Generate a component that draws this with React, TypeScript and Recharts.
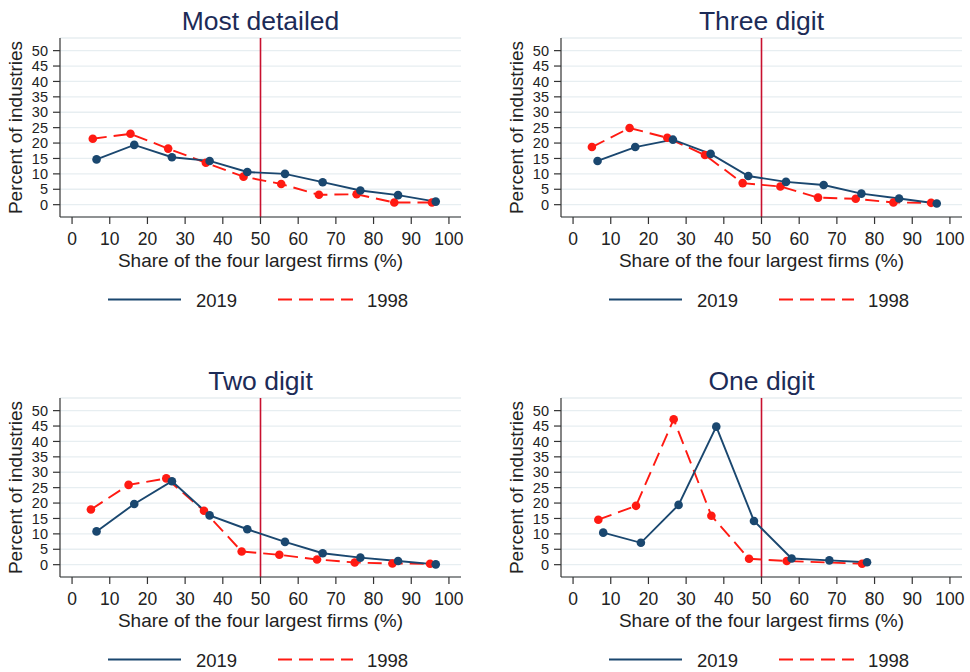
import React from "react";
import {
  LineChart,
  Line,
  XAxis,
  YAxis,
  CartesianGrid,
  ReferenceLine,
} from "recharts";

// Concentration distributions: share of industries by four-firm concentration ratio bin
const mostDetailedX2019 = [6.5, 16.5, 26.5, 36.5, 46.5, 56.5, 66.5, 76.5, 86.5, 96.5];
const mostDetailed2019 = [14.7, 19.4, 15.4, 14.2, 10.6, 10.0, 7.3, 4.6, 3.1, 1.0];
const mostDetailedX1998 = [5.5, 15.5, 25.5, 35.5, 45.5, 55.5, 65.5, 75.5, 85.5, 95.5];
const mostDetailed1998 = [21.4, 23.0, 18.2, 13.6, 9.1, 6.7, 3.2, 3.4, 0.7, 0.7];

const threeDigitX2019 = [6.5, 16.5, 26.5, 36.5, 46.5, 56.5, 66.5, 76.5, 86.5, 96.5];
const threeDigit2019 = [14.2, 18.7, 21.1, 16.5, 9.3, 7.4, 6.4, 3.6, 2.0, 0.4];
const threeDigitX1998 = [5, 15, 25, 35, 45, 55, 65, 75, 85, 95];
const threeDigit1998 = [18.7, 24.9, 21.7, 16.1, 7.0, 5.9, 2.3, 1.9, 0.7, 0.6];

const twoDigitX2019 = [6.5, 16.5, 26.5, 36.5, 46.5, 56.5, 66.5, 76.5, 86.5, 96.5];
const twoDigit2019 = [10.8, 19.7, 27.1, 16.0, 11.5, 7.4, 3.7, 2.3, 1.2, 0.1];
const twoDigitX1998 = [5, 15, 25, 35, 45, 55, 65, 75, 85, 95];
const twoDigit1998 = [17.9, 25.9, 28.0, 17.5, 4.3, 3.2, 1.7, 0.7, 0.4, 0.3];

const oneDigitX2019 = [8, 18, 28, 38, 48, 58, 68, 78];
const oneDigit2019 = [10.4, 7.1, 19.4, 44.8, 14.2, 2.0, 1.4, 0.8];
const oneDigitX1998 = [6.7, 16.7, 26.7, 36.7, 46.7, 56.7, 76.7];
const oneDigit1998 = [14.6, 19.1, 47.2, 15.9, 1.9, 1.2, 0.3];

const xTicks = [0, 10, 20, 30, 40, 50, 60, 70, 80, 90, 100];
const yTicks = [0, 5, 10, 15, 20, 25, 30, 35, 40, 45, 50];
const seriesNames = ["2019", "1998"];
const xAxisTitle = "Share of the four largest firms (%)";
const yAxisTitle = "Percent of industries";
const threshold = 50;

const NAVY = "#1a476f";
const RED = "#ff1a12";
const CRIMSON = "#c8102e";
const GRID = "#e7eef1";
const AXIS = "#333333";
const TITLE = "#1c2b57";
const FONT = "'Liberation Sans', Arial, Helvetica, sans-serif";

type Row = { x: number; a?: number | null; b?: number | null };

function buildRows(xa: number[], va: number[], xb: number[], vb: number[]): Row[] {
  const rows: Row[] = [];
  xa.forEach((x, i) => rows.push({ x, a: va[i], b: null }));
  xb.forEach((x, i) => rows.push({ x, a: null, b: vb[i] }));
  rows.sort((p, q) => p.x - q.x);
  return rows;
}

const makeDot = (color: string) => (props: any) => {
  const { cx, cy, key, value } = props;
  if (value == null || cx == null || cy == null || isNaN(cy)) {
    return <g key={key} />;
  }
  return <circle key={key} cx={cx} cy={cy} r={4.3} fill={color} stroke="none" />;
};

type PanelProps = {
  title: string;
  left: number;
  top: number;
  xa: number[];
  va: number[];
  xb: number[];
  vb: number[];
};

function Panel({ title, left, top, xa, va, xb, vb }: PanelProps) {
  const rows = buildRows(xa, va, xb, vb);
  return (
    <div style={{ position: "absolute", left, top, width: 469, height: 360 }}>
      <LineChart
        width={469}
        height={250}
        data={rows}
        margin={{ top: 38, right: 8, left: 20, bottom: 3 }}
        style={{ position: "absolute", left: 0, top: 0 }}
      >
        <CartesianGrid vertical={false} stroke={GRID} strokeWidth={1.3} />
        <XAxis
          dataKey="x"
          type="number"
          domain={[-3.2, 103.2]}
          ticks={xTicks}
          allowDataOverflow
          interval={0}
          height={30}
          tickSize={7}
          tickMargin={9}
          stroke={AXIS}
          strokeWidth={1.2}
          tick={{ fontSize: 17.5, fill: "#222", fontFamily: FONT }}
        />
        <YAxis
          type="number"
          domain={[-4, 54.1]}
          ticks={yTicks}
          allowDataOverflow
          interval={0}
          width={40}
          tickSize={7}
          tickMargin={5}
          stroke={AXIS}
          strokeWidth={1.2}
          tick={{ fontSize: 14.5, fill: "#222", fontFamily: FONT }}
        />
        <ReferenceLine x={threshold} stroke={CRIMSON} strokeWidth={1.6} />
        <Line
          type="linear"
          dataKey="b"
          name={seriesNames[1]}
          stroke={RED}
          strokeWidth={1.9}
          strokeDasharray="14 7"
          connectNulls
          dot={makeDot(RED)}
          activeDot={false}
          isAnimationActive={false}
        />
        <Line
          type="linear"
          dataKey="a"
          name={seriesNames[0]}
          stroke={NAVY}
          strokeWidth={1.9}
          connectNulls
          dot={makeDot(NAVY)}
          activeDot={false}
          isAnimationActive={false}
        />
      </LineChart>
      <svg
        width={469}
        height={360}
        style={{ position: "absolute", left: 0, top: 0, pointerEvents: "none" }}
        fontFamily={FONT}
      >
        <text x={260.5} y={29.5} textAnchor="middle" fontSize={26.5} fill={TITLE}>
          {title}
        </text>
        <text
          x={0}
          y={0}
          transform="translate(21.5,127.5) rotate(-90)"
          textAnchor="middle"
          fontSize={19}
          fill="#222"
        >
          {yAxisTitle}
        </text>
        <text x={260.5} y={266.5} textAnchor="middle" fontSize={19} fill="#222">
          {xAxisTitle}
        </text>
        <line x1={108} x2={181} y1={299.5} y2={299.5} stroke={NAVY} strokeWidth={1.9} />
        <text x={196} y={306.5} fontSize={18.5} fill="#222">
          {seriesNames[0]}
        </text>
        <line
          x1={278}
          x2={353}
          y1={299.5}
          y2={299.5}
          stroke={RED}
          strokeWidth={1.9}
          strokeDasharray="14 7"
        />
        <text x={367} y={306.5} fontSize={18.5} fill="#222">
          {seriesNames[1]}
        </text>
      </svg>
    </div>
  );
}

export default function App() {
  return (
    <div
      style={{
        position: "absolute",
        left: 0,
        top: 0,
        width: 970,
        height: 672,
        background: "#ffffff",
        overflow: "hidden",
        fontFamily: FONT,
      }}
    >
      <Panel
        title="Most detailed"
        left={0}
        top={0}
        xa={mostDetailedX2019}
        va={mostDetailed2019}
        xb={mostDetailedX1998}
        vb={mostDetailed1998}
      />
      <Panel
        title="Three digit"
        left={501}
        top={0}
        xa={threeDigitX2019}
        va={threeDigit2019}
        xb={threeDigitX1998}
        vb={threeDigit1998}
      />
      <Panel
        title="Two digit"
        left={0}
        top={360}
        xa={twoDigitX2019}
        va={twoDigit2019}
        xb={twoDigitX1998}
        vb={twoDigit1998}
      />
      <Panel
        title="One digit"
        left={501}
        top={360}
        xa={oneDigitX2019}
        va={oneDigit2019}
        xb={oneDigitX1998}
        vb={oneDigit1998}
      />
    </div>
  );
}
